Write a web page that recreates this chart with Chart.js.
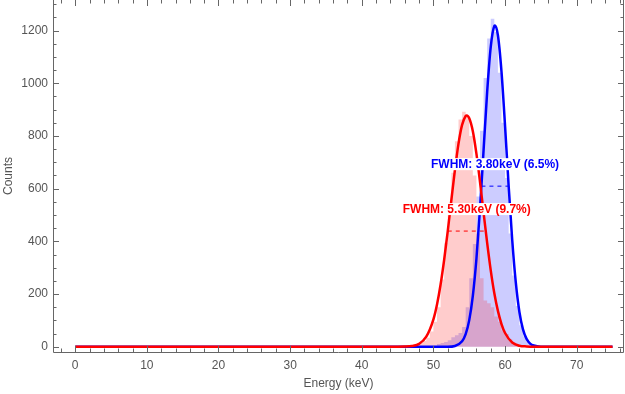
<!DOCTYPE html>
<html>
<head>
<meta charset="utf-8">
<script src="https://cdn.jsdelivr.net/npm/chart.js@4/dist/chart.umd.min.js"></script>
<style>
  html, body { margin: 0; padding: 0; background: #fff; }
</style>
</head>
<body>
<canvas id="spectrum" width="625" height="394"></canvas>
<script>
// histogram bin edges (keV), 0.5 keV bins
const binEdges = [45, 45.5, 46, 46.5, 47, 47.5, 48, 48.5, 49, 49.5, 50, 50.5, 51, 51.5, 52, 52.5,
  53, 53.5, 54, 54.5, 55, 55.5, 56, 56.5, 57, 57.5, 58, 58.5, 59, 59.5, 60, 60.5, 61, 61.5,
  62, 62.5, 63, 63.5, 64, 64.5, 65]

// counts per bin
const redCounts = [1, 1, 2, 3, 4, 6, 9, 14, 22, 34, 58, 95, 150, 255, 395, 525,
  660, 780, 862, 892, 872, 800, 650, 430, 260, 175, 165, 150, 115, 95, 62, 48, 28, 16,
  9, 5, 3, 2, 1, 0]
const blueCounts = [0, 0, 0, 0, 0, 0, 0, 0, 0, 0, 0, 2, 10, 14, 18, 25,
  36, 44, 52, 75, 150, 260, 390, 570, 820, 1020, 1170, 1245, 1195, 1040, 850, 640, 430, 270,
  155, 82, 40, 18, 8, 3]

// fitted curves
const redCurveE = [0, 44, 45, 46, 47, 48, 49, 50, 50.5, 51, 51.5, 52, 52.5, 53, 53.5, 54, 54.5, 54.65,
  55, 55.5, 56, 56.5, 57, 57.5, 58, 58.5, 59, 59.5, 60, 61, 62, 63, 64, 75]
const redCurveC = [0, 0, 0, 0.5, 3, 11, 38, 104, 160, 236, 330, 439, 556, 671, 771, 842, 876, 878,
  867, 818, 733, 626, 509, 394, 290, 203, 136, 86, 52, 16, 4, 1, 0, 0]
const blueCurveE = [0, 52, 53, 54, 54.5, 55, 55.5, 56, 56.5, 57, 57.5, 58, 58.5, 58.6, 59, 59.5,
  60, 60.5, 61, 61.5, 62, 62.5, 63, 63.5, 64, 65, 75]
const blueCurveC = [0, 0, 3, 21, 48, 101, 193, 333, 523, 746, 967, 1138, 1217, 1219, 1182, 1044,
  837, 610, 404, 243, 132, 66, 30, 12, 4.5, 0, 0]

// FWHM markers: [red, blue]
const fwhmLabels = ['FWHM: 5.30keV (9.7%)', 'FWHM: 3.80keV (6.5%)']
const fwhmCenter = [54.65, 58.6]
const fwhmWidth = [5.30, 3.80]
const fwhmHalf = [439, 609.5]
const fwhmColors = ['#ff0000', '#0000ff']

const xTicks = [0, 10, 20, 30, 40, 50, 60, 70]
const yTicks = [0, 200, 400, 600, 800, 1000, 1200]

function histPoints(counts) {
    pts = counts.map((c, i) => ({x: binEdges[i], y: c}))
    pts.push({x: binEdges[binEdges.length - 1], y: 0})
    return pts
}

function curvePoints(e, c) {
    return e.map((v, i) => ({x: v, y: c[i]}))
}

function dashPoints(i) {
    return [
        {x: fwhmCenter[i] - fwhmWidth[i] / 2, y: fwhmHalf[i]},
        {x: fwhmCenter[i] + fwhmWidth[i] / 2, y: fwhmHalf[i]}
    ]
}

const fontFam = '"Liberation Sans", Arial, sans-serif'
const axisGray = '#666666'
const textGray = '#555555'

// frame with inward ticks on all four sides
const framePlugin = {
    id: 'frame',
    afterDraw(chart) {
        const {ctx, chartArea: a, scales: {x, y}} = chart
        ctx.save()
        ctx.strokeStyle = axisGray
        ctx.lineWidth = 1
        ctx.beginPath()
        ctx.moveTo(a.left + 0.5, a.top - 1)
        ctx.lineTo(a.left + 0.5, a.bottom + 0.5)
        ctx.lineTo(a.right - 0.5, a.bottom + 0.5)
        ctx.lineTo(a.right - 0.5, a.top - 1)
        for (let v = -2; v <= x.max; v += 2) {
            const px = Math.round(x.getPixelForValue(v)) + 0.5
            const len = v % 10 === 0 ? 6 : 3.5
            ctx.moveTo(px, a.bottom)
            ctx.lineTo(px, a.bottom - len)
            ctx.moveTo(px, a.top)
            ctx.lineTo(px, a.top + len)
        }
        for (let v = 0; v <= y.max; v += 50) {
            const py = Math.round(y.getPixelForValue(v)) + 0.5
            const len = v % 200 === 0 ? 6 : 3.5
            ctx.moveTo(a.left, py)
            ctx.lineTo(a.left + len, py)
            ctx.moveTo(a.right, py)
            ctx.lineTo(a.right - len, py)
        }
        ctx.stroke()
        ctx.restore()
    }
}

// FWHM text with white box, over the curves
const fwhmTextPlugin = {
    id: 'fwhmText',
    afterDatasetsDraw(chart) {
        const {ctx, scales: {x, y}} = chart
        ctx.save()
        ctx.font = 'bold 12px ' + fontFam
        ctx.textAlign = 'center'
        ctx.textBaseline = 'middle'
        fwhmLabels.forEach((txt, i) => {
            const px = x.getPixelForValue(fwhmCenter[i])
            const py = y.getPixelForValue(fwhmHalf[i]) - 22
            const w = ctx.measureText(txt).width
            ctx.fillStyle = '#ffffff'
            ctx.fillRect(px - w / 2 - 1, py - 6, w + 2, 12)
            ctx.fillStyle = fwhmColors[i]
            ctx.fillText(txt, px, py + 0.5)
        })
        ctx.restore()
    }
}

new Chart('spectrum', {
    type: 'line',
    data: {
        datasets: [
            {
                data: curvePoints(redCurveE, redCurveC),
                borderColor: '#ff0000',
                borderWidth: 2.5,
                pointRadius: 0,
                cubicInterpolationMode: 'monotone',
                fill: false,
                order: 0
            },
            {
                data: curvePoints(blueCurveE, blueCurveC),
                borderColor: '#0000ff',
                borderWidth: 2.5,
                pointRadius: 0,
                cubicInterpolationMode: 'monotone',
                fill: false,
                order: 1
            },
            {
                data: dashPoints(0),
                borderColor: '#ff0000',
                borderWidth: 1,
                borderDash: [4, 4],
                pointRadius: 0,
                fill: false,
                order: 2
            },
            {
                data: dashPoints(1),
                borderColor: '#0000ff',
                borderWidth: 1,
                borderDash: [4, 4],
                pointRadius: 0,
                fill: false,
                order: 2
            },
            {
                data: histPoints(redCounts),
                stepped: 'after',
                borderWidth: 0,
                borderColor: 'rgba(0,0,0,0)',
                backgroundColor: 'rgba(255,0,0,0.2)',
                pointRadius: 0,
                fill: 'origin',
                order: 3
            },
            {
                data: histPoints(blueCounts),
                stepped: 'after',
                borderWidth: 0,
                borderColor: 'rgba(0,0,0,0)',
                backgroundColor: 'rgba(0,0,255,0.2)',
                pointRadius: 0,
                fill: 'origin',
                order: 4
            }
        ]
    },
    options: {
        responsive: false,
        animation: false,
        events: [],
        layout: {padding: {left: 0, right: 1, top: 0, bottom: 0}},
        plugins: {legend: {display: false}, tooltip: {enabled: false}},
        scales: {
            x: {
                type: 'linear',
                min: -3.1,
                max: 76.6,
                afterBuildTicks: (s) => { s.ticks = xTicks.map(v => ({value: v})) },
                afterFit: (s) => { s.height = 42; s.paddingLeft = 0; s.paddingRight = 0 },
                grid: {display: false, drawTicks: false},
                border: {display: false},
                ticks: {color: textGray, font: {family: fontFam, size: 12}, padding: 6, maxRotation: 0,
                    callback: (v) => String(v)},
                title: {display: true, text: 'Energy (keV)', color: textGray,
                    font: {family: fontFam, size: 12}, padding: {top: 0, bottom: 3}}
            },
            y: {
                type: 'linear',
                min: -20,
                max: 1316,
                afterBuildTicks: (s) => { s.ticks = yTicks.map(v => ({value: v})) },
                afterFit: (s) => { s.width = 53; s.paddingTop = 0; s.paddingBottom = 0 },
                grid: {display: false, drawTicks: false},
                border: {display: false},
                ticks: {color: textGray, font: {family: fontFam, size: 12}, padding: 5,
                    callback: (v) => String(v)},
                title: {display: true, text: 'Counts', color: textGray,
                    font: {family: fontFam, size: 12}, padding: {top: 1, bottom: 0}}
            }
        }
    },
    plugins: [framePlugin, fwhmTextPlugin]
})
</script>
</body>
</html>
